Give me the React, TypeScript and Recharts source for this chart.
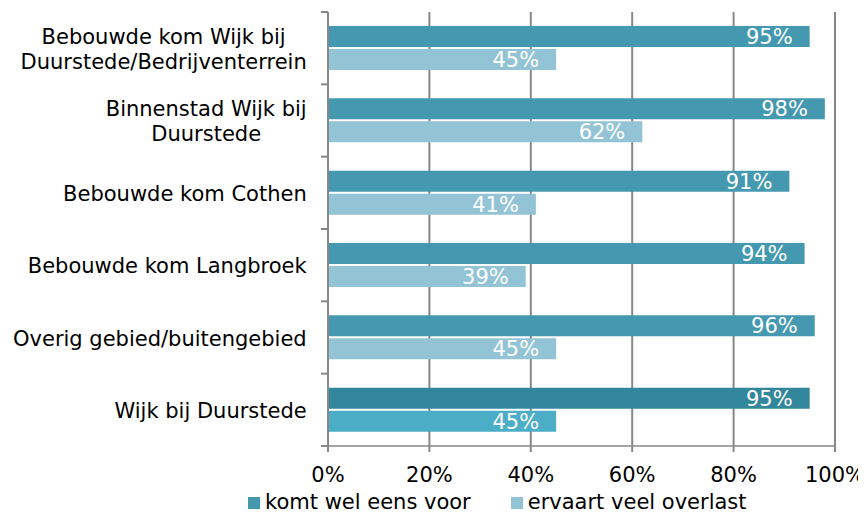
import React from "react";
import { BarChart, Bar, XAxis, YAxis, CartesianGrid, Cell, LabelList, Legend } from "recharts";

// ---- data ----
const categories = [
  "Bebouwde kom Wijk bij\nDuurstede/Bedrijventerrein",
  "Binnenstad Wijk bij\nDuurstede",
  "Bebouwde kom Cothen",
  "Bebouwde kom Langbroek",
  "Overig gebied/buitengebied",
  "Wijk bij Duurstede",
];
const komtWelEensVoor = [95, 98, 91, 94, 96, 95];
const ervaartVeelOverlast = [45, 62, 41, 39, 45, 45];
const seriesNames = ["komt wel eens voor", "ervaart veel overlast"];
const xTicks = [0, 20, 40, 60, 80, 100];

// ---- styling / layout ----
const FONT = '"DejaVu Sans", Verdana, sans-serif';
const FS = 21;
const CHART_W = 858;
const CHART_H = 507;
const MARGIN = { top: 4, right: 31, bottom: 29, left: 0 };
const YAXIS_W = 320;
const XAXIS_H = 40;
const PLOT_H = CHART_H - MARGIN.top - MARGIN.bottom - XAXIS_H;
const GRAY = "#878787";
const C1 = "#4499B0";
const C2 = "#93C4D5";
const C1_TOTAL = "#33879C";
const C2_TOTAL = "#4BADC6";

const data = categories.map((name, i) => ({
  name,
  komt: komtWelEensVoor[i],
  ervaart: ervaartVeelOverlast[i],
}));

let measureCtx: CanvasRenderingContext2D | null = null;
function measure(text: string): number {
  if (!measureCtx) {
    const c = document.createElement("canvas");
    measureCtx = c.getContext("2d");
  }
  if (!measureCtx) return text.length * FS * 0.6;
  measureCtx.font = `${FS}px "DejaVu Sans"`;
  return measureCtx.measureText(text).width;
}

function CategoryTick(props: any) {
  const { y, payload, index } = props;
  const lines = String(payload.value).split("\n");
  const maxW = Math.max(...lines.map(measure));
  const right = YAXIS_W - 21.3;
  const cx = right - maxW / 2;
  const band = PLOT_H / categories.length;
  const pitch = 25;
  const n = lines.length;
  return (
    <g>
      <line x1={YAXIS_W - 7} x2={YAXIS_W} y1={y - band / 2} y2={y - band / 2} stroke={GRAY} strokeWidth={2} />
      {index === categories.length - 1 && (
        <line x1={YAXIS_W - 7} x2={YAXIS_W} y1={y + band / 2} y2={y + band / 2} stroke={GRAY} strokeWidth={2} />
      )}
      {lines.map((ln, i) => (
        <text
          key={i}
          x={cx}
          y={y + 8 + (i - (n - 1) / 2) * pitch}
          textAnchor="middle"
          fontSize={FS}
          fontFamily={FONT}
          fill="#000"
        >
          {ln}
        </text>
      ))}
    </g>
  );
}

function LegendContent() {
  const colors = [C1, C2];
  return (
    <div
      style={{
        display: "flex",
        fontFamily: FONT,
        fontSize: FS,
        lineHeight: "21px",
        color: "#000",
        whiteSpace: "nowrap",
      }}
    >
      {seriesNames.map((s, i) => (
        <span key={s} style={{ marginRight: i === 0 ? 40 : 0 }}>
          <span
            style={{
              display: "inline-block",
              width: 12,
              height: 12,
              background: colors[i],
              marginRight: 5,
              verticalAlign: "baseline",
            }}
          />
          {s}
        </span>
      ))}
    </div>
  );
}

export default function App() {
  return (
    <div style={{ fontFamily: FONT, width: CHART_W, height: CHART_H }}>
      <BarChart
        width={CHART_W}
        height={CHART_H}
        data={data}
        layout="vertical"
        margin={MARGIN}
        barSize={21}
        barGap={2}
      >
        <CartesianGrid horizontal={false} vertical={true} stroke={GRAY} strokeWidth={2} />
        <XAxis
          type="number"
          domain={[0, 100]}
          ticks={xTicks}
          interval={0}
          height={XAXIS_H}
          tickFormatter={(v: number) => `${v}%`}
          axisLine={{ stroke: GRAY, strokeWidth: 1.5 }}
          tickLine={{ stroke: GRAY, strokeWidth: 2 }}
          tickSize={6}
          tickMargin={15}
          tick={{ fill: "#000", fontSize: FS, fontFamily: FONT }}
        />
        <YAxis
          type="category"
          dataKey="name"
          width={YAXIS_W}
          axisLine={{ stroke: GRAY, strokeWidth: 2 }}
          tickLine={false}
          interval={0}
          tick={<CategoryTick />}
        />
        <Legend
          layout="horizontal"
          verticalAlign="middle"
          align="center"
          content={<LegendContent />}
          wrapperStyle={{ top: 484, left: 240, width: "auto" }}
        />
        <Bar dataKey="komt" name={seriesNames[0]} fill={C1} isAnimationActive={false}>
          {data.map((_, i) => (
            <Cell key={i} fill={i === data.length - 1 ? C1_TOTAL : C1} />
          ))}
          <LabelList
            dataKey="komt"
            position="insideRight"
            offset={17}
            fill="#fff"
            fontSize={FS}
            fontFamily={FONT}
            formatter={(v: any) => `${v}%`}
          />
        </Bar>
        <Bar dataKey="ervaart" name={seriesNames[1]} fill={C2} isAnimationActive={false}>
          {data.map((_, i) => (
            <Cell key={i} fill={i === data.length - 1 ? C2_TOTAL : C2} />
          ))}
          <LabelList
            dataKey="ervaart"
            position="insideRight"
            offset={17}
            fill="#fff"
            fontSize={FS}
            fontFamily={FONT}
            formatter={(v: any) => `${v}%`}
          />
        </Bar>
      </BarChart>
    </div>
  );
}
